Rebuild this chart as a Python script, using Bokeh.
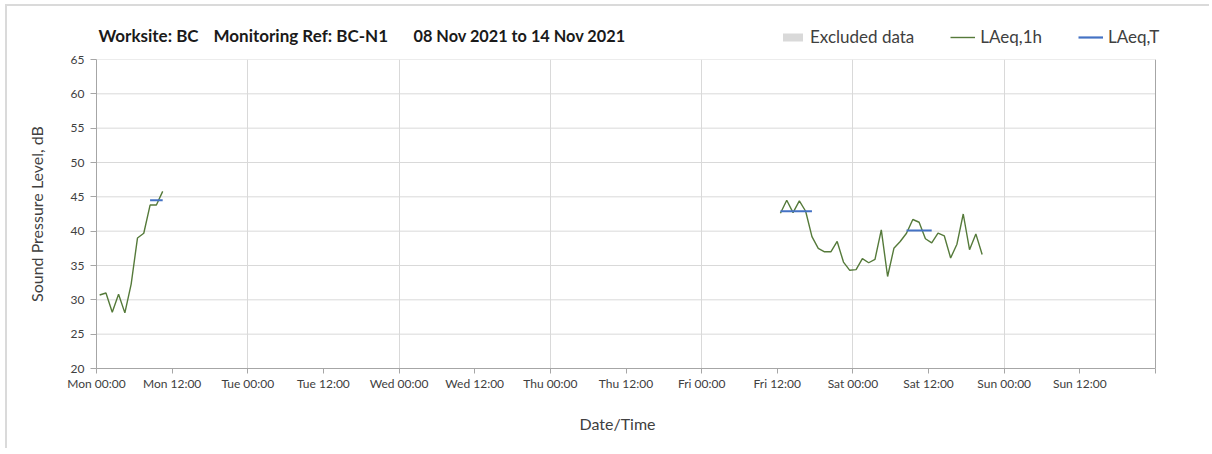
import pandas as pd
from bokeh.plotting import figure
from bokeh.layouts import column
from bokeh.models import FixedTicker, Label, Legend, LegendItem, Range1d, Span
from bokeh.embed import file_html
from bokeh.resources import INLINE

# ---------------- data ----------------
week_start = pd.Timestamp("2021-11-08 00:00")

seg1_start = "2021-11-08 00:30"
seg1_laeq1h = [30.7, 31.0, 28.2, 30.8, 28.1, 32.3, 39.0, 39.7, 43.8, 43.8, 45.8]

seg2_start = "2021-11-12 12:30"
seg2_laeq1h = [42.6, 44.5, 42.7, 44.4, 42.9, 39.2, 37.5, 37.0, 37.0, 38.5, 35.5,
               34.3, 34.4, 36.0, 35.4, 35.9, 40.2, 33.4, 37.5, 38.5, 39.7, 41.7,
               41.3, 38.9, 38.3, 39.7, 39.3, 36.1, 38.1, 42.5, 37.3, 39.6, 36.6]

laeqT_from = ["2021-11-08 08:30", "2021-11-12 12:30", "2021-11-13 08:30"]
laeqT_to = ["2021-11-08 10:30", "2021-11-12 17:30", "2021-11-13 12:30"]
laeqT_val = [44.5, 42.9, 40.1]

day_names = ["Mon", "Tue", "Wed", "Thu", "Fri", "Sat", "Sun"]
tick_times = ["00:00", "12:00"]
y_ticks = [20, 25, 30, 35, 40, 45, 50, 55, 60, 65]

title_parts = ["Worksite: BC", "Monitoring Ref: BC-N1", "08 Nov 2021 to 14 Nov 2021"]
legend_labels = ["Excluded data", "LAeq,1h", "LAeq,T"]
x_label = "Date/Time"
y_label = "Sound Pressure Level, dB"


def hours(ts):
    return [(pd.Timestamp(t) - week_start) / pd.Timedelta(hours=1) for t in ts]


x1 = hours(pd.date_range(seg1_start, periods=len(seg1_laeq1h), freq="h"))
x2 = hours(pd.date_range(seg2_start, periods=len(seg2_laeq1h), freq="h"))
tx0 = hours(laeqT_from)
tx1 = hours(laeqT_to)

FONT = "Lato"
TXT = "#404040"
GRID = "#D9D9D9"
AX = "#A6A6A6"
GREEN = "#557A3A"
BLUE = "#4472C4"
EXCL = "#D9D9D9"
NAN = float("nan")

# ---------------- layout geometry (page pixels) ----------------
OFF_X, OFF_Y = 7, 6          # page offset of the chart box (light border drawn outside)
W = 1204
FRAME_L = 96                 # frame left edge on the page
WEEK_PX = 1059               # width of one week on the x axis
HDR_BOTTOM = 51
TOP = 8
FRAME_H = 309
BOT = 28
PAGE_BOTTOM = 450
WEEK_H = 168.0
RIGHT = OFF_X + W
x_end = WEEK_H * (RIGHT - FRAME_L) / WEEK_PX
MAIN_BOTTOM = HDR_BOTTOM + TOP + FRAME_H + BOT

# ---------------- header (title + legend) ----------------
hdr = figure(width=W, height=HDR_BOTTOM - OFF_Y, output_backend="svg",
             toolbar_location=None,
             x_range=Range1d(FRAME_L, RIGHT), y_range=Range1d(HDR_BOTTOM, OFF_Y),
             min_border=0, min_border_left=FRAME_L - OFF_X,
             x_axis_type=None, y_axis_type=None)
hdr.grid.visible = False
hdr.outline_line_color = None

title_x = [98, 213, 413]
title_sizes = ["17px", "17px", "16.3px"]
for txt, xx, fs in zip(title_parts, title_x, title_sizes):
    hdr.add_layout(Label(x=xx, y=34.5, text=txt, text_font=FONT, text_font_size=fs,
                         text_font_style="bold", text_color="#1a1a1a",
                         text_baseline="middle", text_align="left"))

# legend proxies (not drawn: NaN data)
h_excl = hdr.quad(left=[NAN], right=[NAN], top=[NAN], bottom=[NAN],
                  fill_color=EXCL, line_color=None)
h_1h = hdr.line(x=[NAN], y=[NAN], line_color=GREEN, line_width=1.4)
h_t = hdr.line(x=[NAN], y=[NAN], line_color=BLUE, line_width=2.2)

legend = Legend(items=[LegendItem(label=legend_labels[0], renderers=[h_excl]),
                       LegendItem(label=legend_labels[1], renderers=[h_1h]),
                       LegendItem(label=legend_labels[2], renderers=[h_t])],
                orientation="horizontal", location=(780 - FRAME_L, 4),
                border_line_color=None, background_fill_alpha=0,
                padding=0, margin=0, spacing=36, glyph_width=25, glyph_height=10,
                label_height=10, label_standoff=5,
                label_text_font=FONT, label_text_font_size="17px",
                label_text_color=TXT)
hdr.add_layout(legend, "center")

# ---------------- main chart ----------------
p = figure(width=W, height=TOP + FRAME_H + BOT, output_backend="svg",
           toolbar_location=None,
           x_range=Range1d(0, x_end), y_range=Range1d(20, 65),
           min_border_left=FRAME_L - OFF_X, min_border_right=0, min_border_top=TOP,
           min_border_bottom=BOT)
p.outline_line_color = None

ticks = []
overrides = {}
h = 0
for d in day_names:
    for t in tick_times:
        ticks.append(h)
        overrides[h] = f"{d} {t}"
        h += 12
ticks.append(h)
overrides[h] = ""

p.xaxis.ticker = FixedTicker(ticks=ticks)
p.xaxis.major_label_overrides = overrides
p.xaxis.bounds = (0, WEEK_H)
p.xaxis.minor_tick_line_color = None
p.xaxis.major_tick_out = 5
p.xaxis.major_tick_in = 0
p.xgrid.ticker = FixedTicker(ticks=[t for t in ticks if t % 24 == 0])
p.xgrid.grid_line_color = GRID
p.ygrid.visible = False

p.yaxis.ticker = FixedTicker(ticks=y_ticks)
p.yaxis.minor_tick_line_color = None
p.yaxis.major_tick_out = 6
p.yaxis.major_tick_in = 0

for ax in (p.xaxis, p.yaxis):
    ax.axis_line_color = AX
    ax.major_tick_line_color = AX
    ax.major_label_text_font = FONT
    ax.major_label_text_font_size = "12px"
    ax.major_label_text_color = TXT
    ax.axis_label_text_font = FONT
    ax.axis_label_text_font_size = "16px"
    ax.axis_label_text_font_style = "normal"
    ax.axis_label_text_color = TXT

p.yaxis.axis_label = y_label
p.xaxis.major_label_standoff = 2
p.yaxis.major_label_standoff = 6
p.yaxis.axis_label_standoff = 22

# horizontal grid lines limited to the week span
p.segment(x0=[0] * len(y_ticks), x1=[WEEK_H] * len(y_ticks), y0=y_ticks, y1=y_ticks,
          line_color=GRID, line_width=1, level="underlay")
p.add_layout(Span(location=WEEK_H, dimension="height", line_color=AX, line_width=1))

p.line(x1, seg1_laeq1h, line_color=GREEN, line_width=1.4)
p.line(x2, seg2_laeq1h, line_color=GREEN, line_width=1.4)
p.segment(x0=tx0, x1=tx1, y0=laeqT_val, y1=laeqT_val, line_color=BLUE, line_width=2.2)

# ---------------- footer (x axis title) ----------------
ftr = figure(width=W, height=PAGE_BOTTOM - MAIN_BOTTOM, output_backend="svg",
             toolbar_location=None,
             x_range=Range1d(FRAME_L, RIGHT), y_range=Range1d(PAGE_BOTTOM, MAIN_BOTTOM),
             min_border=0, min_border_left=FRAME_L - OFF_X,
             x_axis_type=None, y_axis_type=None)
ftr.grid.visible = False
ftr.outline_line_color = None
ftr.add_layout(Label(x=617, y=423, text=x_label,
                     text_font=FONT, text_font_size="16px", text_color=TXT,
                     text_baseline="middle", text_align="center"))

layout = column(hdr, p, ftr, spacing=0, margin=(OFF_Y, 0, 0, OFF_X),
                styles={"box-shadow": "-2px -2px 0 0 #DADADA"})
open("out.html", "w").write(file_html(layout, INLINE))
